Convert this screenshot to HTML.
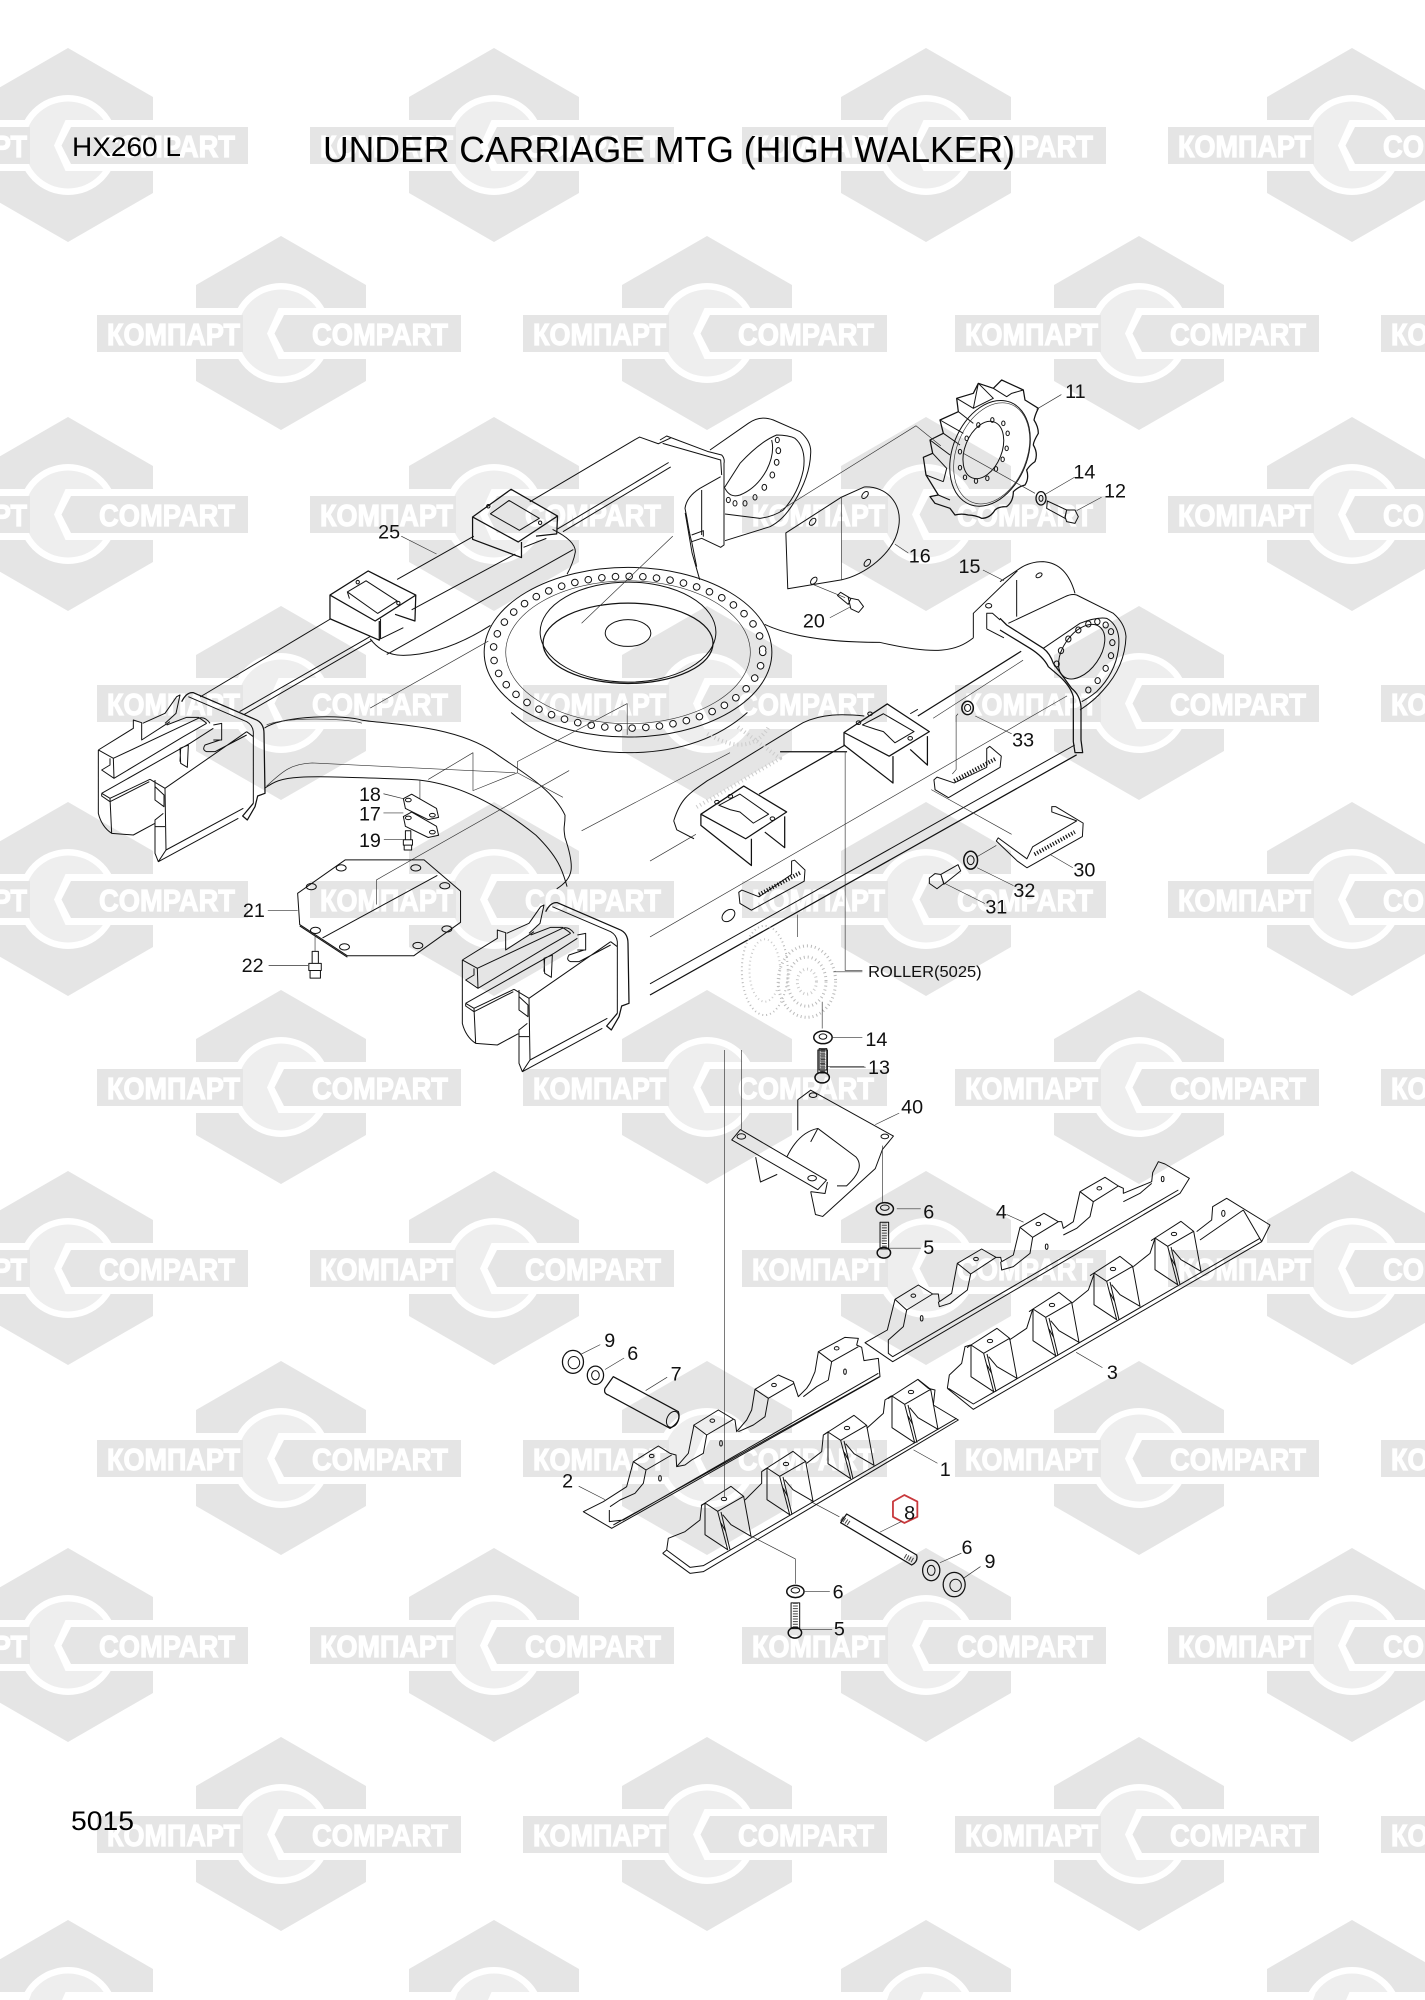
<!DOCTYPE html>
<html><head><meta charset="utf-8"><style>
html,body{margin:0;padding:0;background:#fff;width:1425px;height:2000px;overflow:hidden}
svg{display:block}
.k{font:bold 31px "Liberation Sans",sans-serif;fill:#fff;stroke:#fff;stroke-width:1.2}
path,line,ellipse,circle,polygon,polyline{vector-effect:non-scaling-stroke}
.d{fill:none;stroke:#111;stroke-width:1;stroke-linejoin:round}
.t{stroke:#333;stroke-width:.65}
.h{stroke:#111;stroke-width:1.25}
.th{stroke:#444;stroke-width:5;stroke-dasharray:1 1.6}
.lb text{font-family:"Liberation Sans",sans-serif;font-size:15.5px;fill:#111;text-anchor:middle}
.ttl{font-family:"Liberation Sans",sans-serif;fill:#000}
</style></head><body>
<svg xmlns="http://www.w3.org/2000/svg" width="1425" height="2000" viewBox="0 0 1425 2000">
<defs>
<g id="L">
<polygon points="0,-97 85,-48 85,48 0,97 -85,48 -85,-48" fill="#e5e5e5"/>
<rect x="-85" y="-25" width="170" height="51" fill="#fff"/>
<circle r="50" fill="#fff"/><circle r="43.5" fill="#eee"/>
<rect x="-184" y="-18" width="146" height="37" fill="#e5e5e5"/>
<polygon points="-14,.5 -2.5,-25 50,-25 50,26 -2.5,26" fill="#fff"/>
<polygon points="-6.5,.5 3,-18 180,-18 180,19 3,19" fill="#e5e5e5"/>
</g>
<g id="B">
<polygon points="0,-97 85,-48 85,-25 -85,-25 -85,-48" fill="#e5e5e5"/>
<path d="M-43.3,-25A50,50 0 0 1 43.3,-25Z" fill="#fff"/>
<path d="M-35.6,-25A43.5,43.5 0 0 1 35.6,-25Z" fill="#eee"/>
<polygon points="-36,-25 -2.5,-25 -6,-17 -39,-17" fill="#eee"/>
</g>
<g id="E" transform="scale(.33333)">
<path class="h" d="M275,65Q290,35 310,38L495,118Q522,128 522,160L525,340L503,348L495,380L472,420L458,408L490,370"/>
<path d="M295,50L470,125Q488,135 490,155L490,370M470,155L225,325L180,298M225,325L228,510M470,155L490,170M228,510L460,385M205,545L445,415M195,440L195,520L205,545L228,510M220,400L195,420L195,440L225,440M195,300L195,360L222,380L222,345L195,320M35,340L300,190L370,145M35,340L60,355L180,298M35,340L35,348L60,365L178,305M60,355L65,460L130,465L195,430M25,210L25,400Q35,440 65,460M25,210L70,235L325,115Q345,108 360,130M25,210L130,145L130,120L155,128L155,180L240,125M70,235L72,295L35,270L60,255L60,235M72,295L280,170L350,130M158,130L225,100L260,50L270,45L258,100L225,130M370,135L395,130L395,180L370,180M270,205L295,195L292,262L272,250ZM272,205L270,245M390,180L345,195Q335,210 350,215L375,215L470,165M230,135L290,112L325,112Q345,125 350,130"/>
</g>
<g id="U" transform="scale(.33333)">
<path d="M0,0L78,-50L116,-20L38,25ZM0,0L0,95L68,140L38,25M48,27L75,140M116,-20L138,100L78,65L53,35M-12,8L0,0M48,60L62,85"/>
<ellipse cx="57" cy="-12" rx="8" ry="5"/>
</g>
</defs>

<g transform="translate(68,145)"><use href="#L"/><text class="k" x="-174" y="12" textLength="133" lengthAdjust="spacingAndGlyphs">КОМПАРТ</text><text class="k" x="31" y="12" textLength="136" lengthAdjust="spacingAndGlyphs">COMPART</text></g>
<g transform="translate(494,145)"><use href="#L"/><text class="k" x="-174" y="12" textLength="133" lengthAdjust="spacingAndGlyphs">КОМПАРТ</text><text class="k" x="31" y="12" textLength="136" lengthAdjust="spacingAndGlyphs">COMPART</text></g>
<g transform="translate(926,145)"><use href="#L"/><text class="k" x="-174" y="12" textLength="133" lengthAdjust="spacingAndGlyphs">КОМПАРТ</text><text class="k" x="31" y="12" textLength="136" lengthAdjust="spacingAndGlyphs">COMPART</text></g>
<g transform="translate(1352,145)"><use href="#L"/><text class="k" x="-174" y="12" textLength="133" lengthAdjust="spacingAndGlyphs">КОМПАРТ</text><text class="k" x="31" y="12" textLength="136" lengthAdjust="spacingAndGlyphs">COMPART</text></g>
<g transform="translate(281,333)"><use href="#L"/><text class="k" x="-174" y="12" textLength="133" lengthAdjust="spacingAndGlyphs">КОМПАРТ</text><text class="k" x="31" y="12" textLength="136" lengthAdjust="spacingAndGlyphs">COMPART</text></g>
<g transform="translate(707,333)"><use href="#L"/><text class="k" x="-174" y="12" textLength="133" lengthAdjust="spacingAndGlyphs">КОМПАРТ</text><text class="k" x="31" y="12" textLength="136" lengthAdjust="spacingAndGlyphs">COMPART</text></g>
<g transform="translate(1139,333)"><use href="#L"/><text class="k" x="-174" y="12" textLength="133" lengthAdjust="spacingAndGlyphs">КОМПАРТ</text><text class="k" x="31" y="12" textLength="136" lengthAdjust="spacingAndGlyphs">COMPART</text></g>
<g transform="translate(1565,333)"><use href="#L"/><text class="k" x="-174" y="12" textLength="133" lengthAdjust="spacingAndGlyphs">КОМПАРТ</text><text class="k" x="31" y="12" textLength="136" lengthAdjust="spacingAndGlyphs">COMPART</text></g>
<g transform="translate(68,514)"><use href="#L"/><text class="k" x="-174" y="12" textLength="133" lengthAdjust="spacingAndGlyphs">КОМПАРТ</text><text class="k" x="31" y="12" textLength="136" lengthAdjust="spacingAndGlyphs">COMPART</text></g>
<g transform="translate(494,514)"><use href="#L"/><text class="k" x="-174" y="12" textLength="133" lengthAdjust="spacingAndGlyphs">КОМПАРТ</text><text class="k" x="31" y="12" textLength="136" lengthAdjust="spacingAndGlyphs">COMPART</text></g>
<g transform="translate(926,514)"><use href="#L"/><text class="k" x="-174" y="12" textLength="133" lengthAdjust="spacingAndGlyphs">КОМПАРТ</text><text class="k" x="31" y="12" textLength="136" lengthAdjust="spacingAndGlyphs">COMPART</text></g>
<g transform="translate(1352,514)"><use href="#L"/><text class="k" x="-174" y="12" textLength="133" lengthAdjust="spacingAndGlyphs">КОМПАРТ</text><text class="k" x="31" y="12" textLength="136" lengthAdjust="spacingAndGlyphs">COMPART</text></g>
<g transform="translate(281,703)"><use href="#L"/><text class="k" x="-174" y="12" textLength="133" lengthAdjust="spacingAndGlyphs">КОМПАРТ</text><text class="k" x="31" y="12" textLength="136" lengthAdjust="spacingAndGlyphs">COMPART</text></g>
<g transform="translate(707,703)"><use href="#L"/><text class="k" x="-174" y="12" textLength="133" lengthAdjust="spacingAndGlyphs">КОМПАРТ</text><text class="k" x="31" y="12" textLength="136" lengthAdjust="spacingAndGlyphs">COMPART</text></g>
<g transform="translate(1139,703)"><use href="#L"/><text class="k" x="-174" y="12" textLength="133" lengthAdjust="spacingAndGlyphs">КОМПАРТ</text><text class="k" x="31" y="12" textLength="136" lengthAdjust="spacingAndGlyphs">COMPART</text></g>
<g transform="translate(1565,703)"><use href="#L"/><text class="k" x="-174" y="12" textLength="133" lengthAdjust="spacingAndGlyphs">КОМПАРТ</text><text class="k" x="31" y="12" textLength="136" lengthAdjust="spacingAndGlyphs">COMPART</text></g>
<g transform="translate(68,899)"><use href="#L"/><text class="k" x="-174" y="12" textLength="133" lengthAdjust="spacingAndGlyphs">КОМПАРТ</text><text class="k" x="31" y="12" textLength="136" lengthAdjust="spacingAndGlyphs">COMPART</text></g>
<g transform="translate(494,899)"><use href="#L"/><text class="k" x="-174" y="12" textLength="133" lengthAdjust="spacingAndGlyphs">КОМПАРТ</text><text class="k" x="31" y="12" textLength="136" lengthAdjust="spacingAndGlyphs">COMPART</text></g>
<g transform="translate(926,899)"><use href="#L"/><text class="k" x="-174" y="12" textLength="133" lengthAdjust="spacingAndGlyphs">КОМПАРТ</text><text class="k" x="31" y="12" textLength="136" lengthAdjust="spacingAndGlyphs">COMPART</text></g>
<g transform="translate(1352,899)"><use href="#L"/><text class="k" x="-174" y="12" textLength="133" lengthAdjust="spacingAndGlyphs">КОМПАРТ</text><text class="k" x="31" y="12" textLength="136" lengthAdjust="spacingAndGlyphs">COMPART</text></g>
<g transform="translate(281,1087)"><use href="#L"/><text class="k" x="-174" y="12" textLength="133" lengthAdjust="spacingAndGlyphs">КОМПАРТ</text><text class="k" x="31" y="12" textLength="136" lengthAdjust="spacingAndGlyphs">COMPART</text></g>
<g transform="translate(707,1087)"><use href="#L"/><text class="k" x="-174" y="12" textLength="133" lengthAdjust="spacingAndGlyphs">КОМПАРТ</text><text class="k" x="31" y="12" textLength="136" lengthAdjust="spacingAndGlyphs">COMPART</text></g>
<g transform="translate(1139,1087)"><use href="#L"/><text class="k" x="-174" y="12" textLength="133" lengthAdjust="spacingAndGlyphs">КОМПАРТ</text><text class="k" x="31" y="12" textLength="136" lengthAdjust="spacingAndGlyphs">COMPART</text></g>
<g transform="translate(1565,1087)"><use href="#L"/><text class="k" x="-174" y="12" textLength="133" lengthAdjust="spacingAndGlyphs">КОМПАРТ</text><text class="k" x="31" y="12" textLength="136" lengthAdjust="spacingAndGlyphs">COMPART</text></g>
<g transform="translate(68,1268)"><use href="#L"/><text class="k" x="-174" y="12" textLength="133" lengthAdjust="spacingAndGlyphs">КОМПАРТ</text><text class="k" x="31" y="12" textLength="136" lengthAdjust="spacingAndGlyphs">COMPART</text></g>
<g transform="translate(494,1268)"><use href="#L"/><text class="k" x="-174" y="12" textLength="133" lengthAdjust="spacingAndGlyphs">КОМПАРТ</text><text class="k" x="31" y="12" textLength="136" lengthAdjust="spacingAndGlyphs">COMPART</text></g>
<g transform="translate(926,1268)"><use href="#L"/><text class="k" x="-174" y="12" textLength="133" lengthAdjust="spacingAndGlyphs">КОМПАРТ</text><text class="k" x="31" y="12" textLength="136" lengthAdjust="spacingAndGlyphs">COMPART</text></g>
<g transform="translate(1352,1268)"><use href="#L"/><text class="k" x="-174" y="12" textLength="133" lengthAdjust="spacingAndGlyphs">КОМПАРТ</text><text class="k" x="31" y="12" textLength="136" lengthAdjust="spacingAndGlyphs">COMPART</text></g>
<g transform="translate(281,1458)"><use href="#L"/><text class="k" x="-174" y="12" textLength="133" lengthAdjust="spacingAndGlyphs">КОМПАРТ</text><text class="k" x="31" y="12" textLength="136" lengthAdjust="spacingAndGlyphs">COMPART</text></g>
<g transform="translate(707,1458)"><use href="#L"/><text class="k" x="-174" y="12" textLength="133" lengthAdjust="spacingAndGlyphs">КОМПАРТ</text><text class="k" x="31" y="12" textLength="136" lengthAdjust="spacingAndGlyphs">COMPART</text></g>
<g transform="translate(1139,1458)"><use href="#L"/><text class="k" x="-174" y="12" textLength="133" lengthAdjust="spacingAndGlyphs">КОМПАРТ</text><text class="k" x="31" y="12" textLength="136" lengthAdjust="spacingAndGlyphs">COMPART</text></g>
<g transform="translate(1565,1458)"><use href="#L"/><text class="k" x="-174" y="12" textLength="133" lengthAdjust="spacingAndGlyphs">КОМПАРТ</text><text class="k" x="31" y="12" textLength="136" lengthAdjust="spacingAndGlyphs">COMPART</text></g>
<g transform="translate(68,1645)"><use href="#L"/><text class="k" x="-174" y="12" textLength="133" lengthAdjust="spacingAndGlyphs">КОМПАРТ</text><text class="k" x="31" y="12" textLength="136" lengthAdjust="spacingAndGlyphs">COMPART</text></g>
<g transform="translate(494,1645)"><use href="#L"/><text class="k" x="-174" y="12" textLength="133" lengthAdjust="spacingAndGlyphs">КОМПАРТ</text><text class="k" x="31" y="12" textLength="136" lengthAdjust="spacingAndGlyphs">COMPART</text></g>
<g transform="translate(926,1645)"><use href="#L"/><text class="k" x="-174" y="12" textLength="133" lengthAdjust="spacingAndGlyphs">КОМПАРТ</text><text class="k" x="31" y="12" textLength="136" lengthAdjust="spacingAndGlyphs">COMPART</text></g>
<g transform="translate(1352,1645)"><use href="#L"/><text class="k" x="-174" y="12" textLength="133" lengthAdjust="spacingAndGlyphs">КОМПАРТ</text><text class="k" x="31" y="12" textLength="136" lengthAdjust="spacingAndGlyphs">COMPART</text></g>
<g transform="translate(281,1834)"><use href="#L"/><text class="k" x="-174" y="12" textLength="133" lengthAdjust="spacingAndGlyphs">КОМПАРТ</text><text class="k" x="31" y="12" textLength="136" lengthAdjust="spacingAndGlyphs">COMPART</text></g>
<g transform="translate(707,1834)"><use href="#L"/><text class="k" x="-174" y="12" textLength="133" lengthAdjust="spacingAndGlyphs">КОМПАРТ</text><text class="k" x="31" y="12" textLength="136" lengthAdjust="spacingAndGlyphs">COMPART</text></g>
<g transform="translate(1139,1834)"><use href="#L"/><text class="k" x="-174" y="12" textLength="133" lengthAdjust="spacingAndGlyphs">КОМПАРТ</text><text class="k" x="31" y="12" textLength="136" lengthAdjust="spacingAndGlyphs">COMPART</text></g>
<g transform="translate(1565,1834)"><use href="#L"/><text class="k" x="-174" y="12" textLength="133" lengthAdjust="spacingAndGlyphs">КОМПАРТ</text><text class="k" x="31" y="12" textLength="136" lengthAdjust="spacingAndGlyphs">COMPART</text></g>
<g transform="translate(68,2017)"><use href="#B"/></g>
<g transform="translate(494,2017)"><use href="#B"/></g>
<g transform="translate(926,2017)"><use href="#B"/></g>
<g transform="translate(1352,2017)"><use href="#B"/></g>

<g class="d">
<use href="#E" transform="translate(90,680)"/>
<use href="#E" transform="translate(454,890)"/>
<use href="#U" transform="translate(705,1503)"/><use href="#U" transform="translate(767,1468)"/><use href="#U" transform="translate(828,1432)"/><use href="#U" transform="translate(892,1396)"/>
<use href="#U" transform="translate(971,1345)"/><use href="#U" transform="translate(1033,1309)"/><use href="#U" transform="translate(1094,1273)"/><use href="#U" transform="translate(1155,1238)"/>
</g>

<g class="d" transform="translate(80,400) scale(.41454,.44643)">
<path d="M1340,88L1085,228M950,305L765,402M605,490L290,665M385,698L700,530M395,705L705,538M800,470L1050,345M1150,290L1420,140M1165,295L1425,150"/>
<path d="M700,535Q730,572 780,572Q880,570 990,505M1140,290Q1195,315 1195,340Q1190,365 1175,390M740,570L1190,335"/>
<path d="M1340,88L1350,83L1395,98L1425,85"/>
<path class="h" d="M603,437L695,383L810,437L712,495ZM603,437L603,490L722,538L722,495M810,437L808,495L760,480M947,262L1040,200L1152,260L1057,318ZM947,262L947,312L1065,353L1065,318M1152,260L1150,300L1100,305"/>
<path d="M645,430L690,405L765,450L718,478ZM645,430L650,445M725,490L725,535L780,510M990,255L1035,225L1108,265L1060,292ZM1070,330L1125,310"/>
<circle cx="670" cy="408" r="4"/><circle cx="768" cy="455" r="4"/><circle cx="985" cy="238" r="4"/><circle cx="1110" cy="275" r="4"/>
<path d="M445,735C490,705 640,705 680,717C720,725 900,725 1000,790C1060,830 1140,870 1170,930C1170,960 1165,950 1170,980C1195,1050 1190,1070 1150,1095M445,870C490,840 510,840 800,850C900,855 1000,900 1100,975C1160,1030 1165,1060 1175,1090"/>
<path class="t" d="M450,728C490,710 640,712 680,724M450,865C490,830 510,815 560,813L1050,835"/>
<ellipse cx="1322" cy="565" rx="347" ry="190"/>
<ellipse cx="1322" cy="565" rx="295" ry="160" class="t"/>
<ellipse cx="1322" cy="520" rx="212" ry="112"/>
<ellipse cx="1322" cy="545" rx="205" ry="90" class="h"/>
<ellipse cx="1322" cy="522" rx="55" ry="30"/>
<path d="M1040,700Q1150,790 1322,790Q1500,790 1610,700"/>
<ellipse cx="1322" cy="565" rx="325" ry="170" style="stroke-width:7.5;stroke-linecap:round;stroke-dasharray:.1 13.6"/>
<ellipse cx="1322" cy="565" rx="325" ry="170" style="stroke-width:5.5;stroke:#fff;stroke-linecap:round;stroke-dasharray:.1 13.6"/>
<path class="t" d="M820,850L820,893M840,850L948,790L948,875L1055,835L1055,810L1320,680L1320,750M1055,835L1165,890M715,1075L715,1130M715,1075L1180,830M1210,965L1568,790M700,690L985,540M1210,500L1430,305"/>
<path d="M780,893L800,883L860,915L865,935L840,940L785,915ZM780,933L800,923L860,955L865,975L840,980L785,955Z"/>
<ellipse cx="792" cy="896" rx="7" ry="4"/><ellipse cx="850" cy="930" rx="7" ry="4"/><ellipse cx="792" cy="936" rx="7" ry="4"/><ellipse cx="850" cy="968" rx="7" ry="4"/>
<path d="M785,965L798,965L798,985L785,985ZM780,985L802,985L802,997L780,997ZM782,997L800,997L800,1008L782,1008Z"/>
<polygon points="525,1105 640,1030 830,1030 918,1100 918,1170 805,1245 645,1245 530,1175"/>
<path d="M585,1205L862,1065M530,1178L645,1248"/>
<ellipse cx="630" cy="1048" rx="12" ry="7"/><ellipse cx="810" cy="1048" rx="12" ry="7"/><ellipse cx="880" cy="1088" rx="12" ry="7"/><ellipse cx="885" cy="1185" rx="12" ry="7"/><ellipse cx="815" cy="1222" rx="12" ry="7"/><ellipse cx="638" cy="1225" rx="12" ry="7"/><ellipse cx="568" cy="1188" rx="12" ry="7"/><ellipse cx="558" cy="1090" rx="12" ry="7"/>
<path d="M560,1235L575,1235L575,1262L560,1262ZM552,1262L582,1262L582,1278L552,1278ZM555,1278L580,1278L580,1295L555,1295Z"/>
<path class="t" d="M775,305L860,345M732,882L780,893M732,925L780,925M733,985L780,985M453,1143L525,1143M455,1267L550,1267M567,1200L567,1235"/>
</g>

<!-- far housing upper -->
<g class="d" transform="translate(660,410) scale(.33333)">
<path d="M0,90L20,78L145,125L185,135Q195,145 192,160L192,405L182,412L125,385L95,395M8,100L130,135L182,150L185,195M182,200L120,235Q80,260 75,295L80,320Q90,380 95,395L110,470M125,240L125,375M95,375L130,362L130,380"/>
<path d="M150,120L265,40Q300,15 340,30L420,65Q455,95 452,130Q450,200 400,280Q370,330 330,350L195,392M192,235L240,160Q300,95 350,75Q385,75 405,85Q440,115 430,180Q415,250 370,300Q340,320 300,325L195,312M195,235Q210,265 240,255Q290,235 320,180Q345,130 335,90"/>
<ellipse cx="205" cy="270" rx="6" ry="8"/><ellipse cx="225" cy="280" rx="6" ry="8"/><ellipse cx="255" cy="280" rx="6" ry="8"/><ellipse cx="285" cy="262" rx="6" ry="8"/><ellipse cx="313" cy="232" rx="7" ry="9"/><ellipse cx="337" cy="195" rx="7" ry="9"/><ellipse cx="350" cy="157" rx="7" ry="9"/><ellipse cx="355" cy="122" rx="7" ry="9"/><ellipse cx="352" cy="90" rx="6" ry="8"/>
</g>
<!-- far housing right -->
<g class="d" transform="translate(1000,560) scale(.33333)">
<path d="M0,65L60,25Q90,5 130,5Q200,10 225,100M50,60L50,170M25,190L195,110Q215,100 230,105L340,160Q375,190 378,230Q375,320 310,390Q285,420 240,450M130,265L240,190Q290,170 320,175Q365,200 355,270Q345,340 290,395Q265,415 245,425"/>
<ellipse cx="245" cy="275" rx="55" ry="92" transform="rotate(35 245 275)"/>
<ellipse cx="117" cy="46" rx="10" ry="6" transform="rotate(-30 117 46)"/>
<ellipse cx="170" cy="312" rx="8" ry="9"/><ellipse cx="183" cy="272" rx="8" ry="9"/><ellipse cx="205" cy="237" rx="8" ry="9"/><ellipse cx="235" cy="210" rx="8" ry="9"/><ellipse cx="265" cy="192" rx="8" ry="9"/><ellipse cx="292" cy="185" rx="8" ry="9"/><ellipse cx="317" cy="195" rx="8" ry="9"/><ellipse cx="333" cy="215" rx="8" ry="9"/><ellipse cx="337" cy="248" rx="8" ry="9"/><ellipse cx="333" cy="287" rx="8" ry="9"/><ellipse cx="317" cy="325" rx="8" ry="9"/><ellipse cx="293" cy="362" rx="8" ry="9"/><ellipse cx="265" cy="390" rx="8" ry="9"/>
<path class="h" d="M0,175L20,195L130,265Q150,280 160,310L215,385Q240,405 243,440L243,540L248,578L225,578L220,545L220,410Q212,380 180,350L145,320Q130,290 90,265L0,210"/>
</g>
<!-- sprocket -->
<g class="d" transform="translate(910,370) scale(.33333)">
<path class="h" d="M345,90L385,115Q375,135 372,150Q385,170 385,190Q370,215 370,225Q385,250 375,275Q360,285 350,300Q358,325 345,345Q325,350 310,365Q310,395 290,410Q265,410 255,420Q240,445 215,445Q195,435 175,435Q155,430 135,435L120,415L75,400L60,380L85,375L48,315L40,262L68,250L60,210L100,190L90,150L145,125L140,85L190,70L205,40L250,55L275,30L340,60Z"/>
<path d="M68,250L110,295L100,335M60,210L120,255M100,190L150,225M90,150L160,190M145,125L190,160M140,85L190,115L205,40M205,40L250,85L190,115M250,55L290,80L305,70L340,60M48,315L100,335M85,375L120,390"/>
<ellipse cx="240" cy="250" rx="112" ry="165" transform="rotate(22 240 250)"/>
<ellipse cx="245" cy="250" rx="105" ry="158" transform="rotate(22 245 250)" class="t"/>
<ellipse cx="220" cy="240" rx="55" ry="90" transform="rotate(22 220 240)"/>
<ellipse cx="205" cy="165" rx="5" ry="7"/><ellipse cx="247" cy="150" rx="5" ry="7"/><ellipse cx="280" cy="160" rx="5" ry="7"/><ellipse cx="293" cy="190" rx="5" ry="7"/><ellipse cx="290" cy="235" rx="5" ry="7"/><ellipse cx="278" cy="268" rx="5" ry="7"/><ellipse cx="258" cy="297" rx="5" ry="7"/><ellipse cx="232" cy="325" rx="5" ry="7"/><ellipse cx="198" cy="333" rx="5" ry="7"/><ellipse cx="165" cy="322" rx="5" ry="7"/><ellipse cx="150" cy="293" rx="5" ry="7"/><ellipse cx="150" cy="245" rx="5" ry="7"/><ellipse cx="170" cy="205" rx="5" ry="7"/>
<ellipse cx="393" cy="385" rx="15" ry="20" class="h"/><ellipse cx="393" cy="385" rx="6" ry="9"/>
<path d="M412,393L470,420L465,445L410,415ZM470,420L495,420L505,440L495,460L470,455L465,440Z"/>
<path class="t" d="M160,250L375,370"/>
</g>

<g class="d" transform="translate(650,370) scale(.38265,.44643)">
<path d="M92,320L110,410L130,470M300,570C400,610 550,610 600,610C750,640 800,630 845,600"/>
<path d="M355,365L500,285L560,262C620,260 660,300 650,350C640,410 560,460 500,470L360,490Z"/>
<path class="t" d="M500,285L500,470M340,315L695,125L760,170M425,480L510,510"/>
<ellipse cx="425" cy="340" rx="10" ry="6" transform="rotate(-40 425 340)"/><ellipse cx="562" cy="280" rx="10" ry="6" transform="rotate(-40 562 280)"/><ellipse cx="568" cy="432" rx="10" ry="6" transform="rotate(-40 568 432)"/><ellipse cx="428" cy="472" rx="10" ry="6" transform="rotate(-40 428 472)"/>
<path d="M490,505L498,498L525,512L518,525ZM518,510L545,515L558,530L545,543L525,535Z"/>
<path d="M845,600L845,545L960,450M880,580L880,545L895,545L915,560M880,580L925,600"/>
<ellipse cx="885" cy="528" rx="8" ry="5"/>
<path class="h" d="M0,1400L1115,862M700,775L970,630M285,950L510,840M340,855L515,855"/>
<path d="M0,1375L1110,840M680,770L700,760"/>
<path class="t" d="M0,1270L1090,730M510,855L510,1345L555,1345M0,1100L120,1040M975,650L740,780"/>
<path d="M62,1010C80,960 100,950 150,920C230,880 320,830 400,790C450,770 500,770 560,775M62,1010L70,1030L115,1050"/>
<path class="h" d="M507,812L620,748L730,810L625,865ZM507,812L507,840L635,925L635,865M725,820L725,885L680,850M133,995L245,932L357,990L250,1050ZM133,995L133,1020L265,1110L265,1050M352,1000L352,1070L300,1035"/>
<path d="M555,795L610,770L690,810L640,835L610,810L590,805ZM180,975L235,950L310,995L270,1015L235,990L210,985Z"/>
<ellipse cx="545" cy="790" rx="6" ry="4"/><ellipse cx="575" cy="770" rx="6" ry="4"/><ellipse cx="680" cy="825" rx="6" ry="4"/><ellipse cx="175" cy="968" rx="6" ry="4"/><ellipse cx="210" cy="955" rx="6" ry="4"/><ellipse cx="320" cy="1005" rx="6" ry="4"/>
<ellipse cx="300" cy="1345" rx="60" ry="100" style="stroke:#bbb;stroke-width:2;stroke-dasharray:1 3"/>
<ellipse cx="300" cy="1345" rx="40" ry="70" style="stroke:#ccc;stroke-width:2;stroke-dasharray:1 3"/>
<ellipse cx="410" cy="1370" rx="75" ry="80" style="stroke:#bbb;stroke-width:3;stroke-dasharray:1 3"/>
<ellipse cx="410" cy="1370" rx="50" ry="55" style="stroke:#bbb;stroke-width:3;stroke-dasharray:1 3"/>
<ellipse cx="410" cy="1370" rx="25" ry="28" style="stroke:#ccc;stroke-width:3;stroke-dasharray:1 3"/>
<path d="M150,815Q260,870 310,800M230,800L340,870L120,980" style="stroke:#ccc;stroke-width:4;stroke-dasharray:1 3"/>
<path d="M742,918L750,912L795,925L880,890L880,848L888,843L918,865L915,890L780,958L745,940ZM232,1170L240,1165L285,1180L370,1130L370,1100L378,1098L405,1120L403,1145L265,1210L235,1195ZM905,1055L910,1048L985,1095L1000,1068L1115,1010L1050,990L1050,978L1060,978L1132,1015L1130,1045L985,1115L960,1100Z"/>
<path d="M795,920L905,870M285,1175L395,1125M1005,1085L1110,1035" style="stroke-width:4;stroke-dasharray:1.2 1.8"/>
<ellipse cx="205" cy="1222" rx="18" ry="12" transform="rotate(-30 205 1222)"/>
<circle cx="830" cy="757" r="15" style="stroke-width:1.5"/><circle cx="830" cy="757" r="8"/>
<ellipse cx="838" cy="1098" rx="18" ry="20" style="stroke-width:1.5"/><ellipse cx="838" cy="1098" rx="9" ry="10"/>
<path d="M760,1130L805,1108L812,1122L768,1152ZM745,1128L760,1130L768,1150L750,1162L730,1150L730,1138Z"/>
<path class="t" d="M805,770L800,775L800,895L790,905M855,1090L905,1065M735,940L945,1040M385,1220L385,1270M450,1415L450,1475"/>
<ellipse cx="452" cy="1495" rx="24" ry="14" style="stroke-width:1.5"/><ellipse cx="452" cy="1493" rx="10" ry="6"/>
<path d="M442,1520L462,1520L462,1568L442,1568Z"/><line x1="452" y1="1520" x2="452" y2="1568" class="th"/>
<path class="t" d="M1010,88L1075,55M1030,280L1110,240M1115,315L1180,285M640,390L675,410M870,448L925,472M470,555L525,530M850,775L945,815M1045,1085L1105,1115M855,1115L950,1155M770,1150L875,1195M480,1348L555,1348M475,1495L555,1495M460,1560L560,1560"/>
</g>

<g class="d" transform="translate(550,1050) scale(.47832,.38265)">
<path d="M518,130L545,105L718,225L695,260L680,310L570,435L555,430L545,370M518,130L518,210M380,235L398,208L578,340L560,365ZM495,280Q520,215 560,205L640,280Q660,310 620,355L600,355M560,205L545,240M430,280L440,345L475,325M545,370L575,375L580,345"/>
<ellipse cx="400" cy="226" rx="9" ry="7"/><ellipse cx="548" cy="335" rx="9" ry="7"/><ellipse cx="550" cy="118" rx="8" ry="6"/><ellipse cx="700" cy="226" rx="8" ry="6"/>
<path class="t" d="M695,250L695,400M400,0L400,210M365,0L365,1170"/>
<path d="M560,0L580,0L580,60L560,60Z"/><line x1="570" y1="0" x2="570" y2="60" class="th"/><ellipse cx="569" cy="72" rx="15" ry="14" style="stroke-width:1.5"/>
<ellipse cx="700" cy="415" rx="18" ry="16" style="stroke-width:1.5"/><ellipse cx="700" cy="412" rx="9" ry="7"/>
<path d="M690,450L708,450L708,520L690,520Z"/><line x1="699" y1="450" x2="699" y2="520" class="th"/><ellipse cx="698" cy="530" rx="14" ry="14" style="stroke-width:1.5"/>
<ellipse cx="513" cy="1415" rx="18" ry="16" style="stroke-width:1.5"/><ellipse cx="513" cy="1412" rx="9" ry="7"/>
<path d="M504,1445L522,1445L522,1512L504,1512Z"/><line x1="513" y1="1445" x2="513" y2="1512" class="th"/><ellipse cx="512" cy="1523" rx="14" ry="14" style="stroke-width:1.5"/>
<ellipse cx="48" cy="815" rx="22" ry="30" class="h"/><ellipse cx="50" cy="817" rx="12" ry="16"/>
<ellipse cx="95" cy="850" rx="17" ry="24" class="h"/><ellipse cx="95" cy="850" rx="8" ry="12"/>
<ellipse cx="797" cy="1360" rx="18" ry="27" class="h"/><ellipse cx="797" cy="1360" rx="8" ry="13"/>
<ellipse cx="845" cy="1397" rx="23" ry="32" class="h"/><ellipse cx="848" cy="1399" rx="12" ry="16"/>
<polygon points="741,1163 768,1180 768,1220 741,1236 717,1220 717,1180" style="stroke:#c8383c;stroke-width:1.8"/>
<path class="t" d="M585,45L660,45M680,195L730,165M725,415L775,415M710,518L775,518M955,430L990,450M1100,790L1155,830M65,795L105,770M115,835L155,805M200,890L245,855M760,1045L810,1080M60,1140L115,1175M690,1260L735,1232M815,1340L860,1315M865,1380L900,1350M530,1415L585,1415M525,1515L590,1515M545,1180L605,1220M420,1270L513,1330L513,1395"/>
</g>

<!-- rails 1,2, pins -->
<g class="d" transform="translate(570,1330) scale(.33333)">
<path d="M40,545L125,595L930,140L925,85L882,92L875,52L860,45L865,25L825,22L745,65L735,125L720,160L710,175L685,200L670,155L625,135L555,178L545,240L530,270L500,305L495,270L445,240L372,285L355,370L320,410L318,375L300,370L265,348L190,395L170,470L100,515Z"/>
<path d="M118,540L118,575L160,570L925,130M130,585L928,140M190,395L228,420L305,375M228,420L220,460L195,490L150,510L120,530M370,285L410,315L490,268M410,315L400,370L365,390L345,405L320,410M555,178L595,205L672,160M595,205L585,260L550,285L505,305M745,65L785,95L865,50M785,95L775,150L740,170L700,200"/>
<ellipse cx="245" cy="378" rx="7" ry="5"/><ellipse cx="427" cy="272" rx="7" ry="5"/><ellipse cx="612" cy="165" rx="7" ry="5"/><ellipse cx="800" cy="55" rx="7" ry="5"/><ellipse cx="270" cy="445" rx="4" ry="8"/><ellipse cx="453" cy="340" rx="4" ry="8"/><ellipse cx="825" cy="125" rx="4" ry="8"/>
<path d="M278,670L360,730L400,725L1165,270L1090,225L1095,180L1075,175L1045,150M965,197L945,210L940,250L890,295M775,305L760,315L755,365L710,400M590,415L575,425L575,460L525,510M405,520L395,525L390,570L345,605L295,625L290,660L278,670M290,660L360,712L400,707L1160,265"/>
<path class="h" d="M105,175L130,140L325,245Q335,275 300,295L115,195Q100,190 105,175Z"/>
<ellipse cx="308" cy="268" rx="17" ry="25" transform="rotate(25 308 268)"/>
<path class="h" d="M812,578L830,552L1040,675Q1045,695 1025,705Z"/>
<path class="th" d="M815,565L840,582M1005,678L1030,692"/>
</g>
<!-- rails 3,4 -->
<g class="d" transform="translate(850,1150) scale(.33333)">
<path d="M45,578L128,635L990,130L1018,85L945,42L925,35L908,68L905,95L820,130L820,115L805,108L765,82L690,125L670,215L640,235L635,215L625,215L582,190L510,232L490,315L455,335L452,322L438,322L395,297L322,340L305,430L268,455L265,432L248,432L205,405L135,448L112,540Z"/>
<path d="M135,448L170,480L248,432M170,480L160,530L115,570L115,610L128,620L985,120M322,340L362,372L438,322M362,372L352,420L300,460L268,470L265,455M510,232L548,262L625,215M548,262L540,310L490,350L455,360L452,335M690,125L730,155L805,108M730,155L720,200L680,235L640,255M820,155L870,130L905,100"/>
<ellipse cx="190" cy="437" rx="7" ry="5"/><ellipse cx="378" cy="327" rx="7" ry="5"/><ellipse cx="565" cy="222" rx="7" ry="5"/><ellipse cx="748" cy="115" rx="7" ry="5"/><ellipse cx="215" cy="505" rx="4" ry="8"/><ellipse cx="590" cy="290" rx="4" ry="8"/><ellipse cx="938" cy="87" rx="4" ry="8"/>
<path d="M292,715L370,778L1235,275L1260,225L1130,145L1088,170L1085,210L1040,245M292,715L298,675L335,640L345,590L362,585M478,570L530,535L548,478M665,460L715,420L733,370M850,350L900,310L915,265M1180,180L1235,275M1180,180L1050,270M295,715L370,762L1230,265"/>
<ellipse cx="1120" cy="190" rx="5" ry="9"/>
</g>

<text class="ttl" x="72" y="156" font-size="27" textLength="109" lengthAdjust="spacingAndGlyphs">HX260 L</text>
<text class="ttl" x="323" y="162" font-size="36" textLength="692" lengthAdjust="spacingAndGlyphs">UNDER CARRIAGE MTG (HIGH WALKER)</text>
<text class="ttl" x="71" y="1830" font-size="27" textLength="63" lengthAdjust="spacingAndGlyphs">5015</text>

<g class="lb" transform="scale(1.2757)">
<text x="843" y="312">11</text><text x="850" y="375">14</text><text x="874" y="390">12</text><text x="721" y="441">16</text><text x="760" y="449">15</text><text x="305" y="422">25</text><text x="638" y="492">20</text><text x="802" y="585">33</text><text x="290" y="628">18</text><text x="290" y="643">17</text><text x="290" y="664">19</text><text x="850" y="687">30</text><text x="803" y="703">32</text><text x="781" y="716">31</text><text x="199" y="719">21</text><text x="198" y="762">22</text>
<text x="725" y="766" style="font-size:12.5px" textLength="89" lengthAdjust="spacingAndGlyphs">ROLLER(5025)</text>
<text x="687" y="820">14</text><text x="689" y="842">13</text><text x="715" y="873">40</text><text x="728" y="955">6</text><text x="728" y="983">5</text><text x="785" y="955">4</text><text x="872" y="1081">3</text><text x="478" y="1056">9</text><text x="496" y="1066">6</text><text x="530" y="1082">7</text><text x="741" y="1157">1</text><text x="445" y="1166">2</text><text x="713" y="1191">8</text><text x="758" y="1218">6</text><text x="776" y="1229">9</text><text x="657" y="1253">6</text><text x="658" y="1282">5</text>
</g>
</svg>
</body></html>
